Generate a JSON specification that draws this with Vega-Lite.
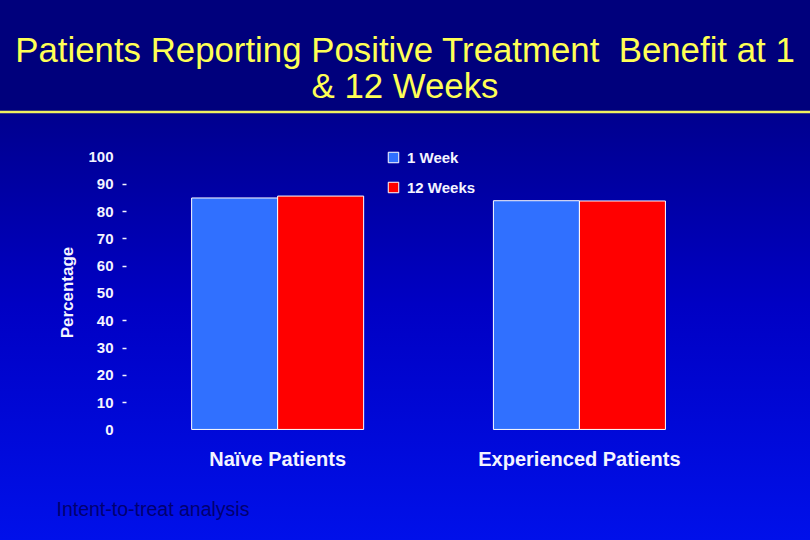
{
  "$schema": "https://vega.github.io/schema/vega-lite/v6.json",
  "width": 810,
  "height": 428,
  "autosize": {"type": "none"},
  "padding": {"top": 112, "left": 0, "right": 0, "bottom": 0},
  "background": "#00007C",
  "title": {
    "text": ["Patients Reporting Positive Treatment \u00a0Benefit at 1", "& 12 Weeks"],
    "font": "Liberation Sans",
    "fontSize": 34.8,
    "fontWeight": "normal",
    "color": "#FFFF55",
    "lineHeight": 36,
    "anchor": "middle",
    "frame": "group",
    "baseline": "bottom",
    "offset": -29
  },
  "config": {
    "view": {
      "stroke": null,
      "fill": {
        "gradient": "linear",
        "x1": 0, "y1": 0, "x2": 0, "y2": 1,
        "stops": [
          {"offset": 0, "color": "#00008E"},
          {"offset": 0.45, "color": "#0000C4"},
          {"offset": 1, "color": "#0010EA"}
        ]
      }
    }
  },
  "data": {
    "values": [
      {"group": "Naïve Patients", "period": "1 Week", "value": 84.8},
      {"group": "Naïve Patients", "period": "12 Weeks", "value": 85.5},
      {"group": "Experienced Patients", "period": "1 Week", "value": 83.8},
      {"group": "Experienced Patients", "period": "12 Weeks", "value": 83.7}
    ]
  },
  "layer": [
    {
      "mark": {"type": "bar", "stroke": "white", "strokeWidth": 1},
      "encoding": {
        "x": {
          "field": "group",
          "type": "nominal",
          "sort": null,
          "scale": {"paddingInner": 0.43, "paddingOuter": 0.557, "align": 0.57},
          "axis": {
            "title": "Intent-to-treat analysis",
            "orient": "bottom",
            "offset": -111,
            "domain": false,
            "ticks": false,
            "tickSize": 0,
            "grid": false,
            "labelAngle": 0,
            "labelLimit": 0,
            "labelFont": "Liberation Sans",
            "labelFontSize": 20,
            "labelFontWeight": "bold",
            "labelColor": "#F4F4FF",
            "labelPadding": 20,
            "titleFont": "Liberation Sans",
            "titleFontSize": 19.5,
            "titleFontWeight": "normal",
            "titleColor": "#000070",
            "titleX": 56,
            "titleY": 86,
            "titleAlign": "left",
            "titleAnchor": "start",
            "titleBaseline": "alphabetic"
          }
        },
        "xOffset": {
          "field": "period",
          "type": "nominal",
          "sort": ["1 Week", "12 Weeks"],
          "scale": {"paddingInner": 0, "paddingOuter": 0}
        },
        "y": {
          "field": "value",
          "type": "quantitative",
          "scale": {"domain": [-40.5, 116.3], "nice": false, "zero": false},
          "axis": {
            "title": "Percentage",
            "orient": "left",
            "offset": -126,
            "values": [0, 10, 20, 30, 40, 50, 60, 70, 80, 90, 100],
            "domain": false,
            "grid": false,
            "tickSize": 4,
            "tickWidth": 1.5,
            "tickColor": "#F4F4FF",
            "tickOpacity": {"condition": {"test": "datum.value % 50 === 0", "value": 0}, "value": 1},
            "labelFont": "Liberation Sans",
            "labelFontSize": 15,
            "labelFontWeight": "bold",
            "labelColor": "#F4F4FF",
            "labelPadding": 9,
            "titleFont": "Liberation Sans",
            "titleFontSize": 17,
            "titleFontWeight": "bold",
            "titleColor": "#F4F4FF",
            "titleAngle": 270,
            "titleX": -59,
            "titleY": 180,
            "titleAlign": "center",
            "titleBaseline": "middle"
          }
        },
        "y2": {"datum": 0},
        "color": {
          "field": "period",
          "type": "nominal",
          "sort": ["1 Week", "12 Weeks"],
          "scale": {"domain": ["1 Week", "12 Weeks"], "range": ["#3070FF", "#FF0000"]},
          "legend": {
            "title": null,
            "orient": "none",
            "legendX": 386,
            "legendY": 38,
            "padding": 0,
            "symbolType": "square",
            "symbolSize": 110,
            "symbolStrokeColor": "white",
            "symbolStrokeWidth": 1,
            "symbolOpacity": 1,
            "labelFont": "Liberation Sans",
            "labelFontSize": 15,
            "labelFontWeight": "bold",
            "labelColor": "#F4F4FF",
            "labelOffset": 6,
            "rowPadding": 14
          }
        }
      }
    },
    {
      "data": {"values": [{"edge": "top"}]},
      "mark": {"type": "rule", "color": "#F0F060", "strokeWidth": 2.5},
      "encoding": {
        "y": {"datum": 116.3}
      }
    }
  ]
}
